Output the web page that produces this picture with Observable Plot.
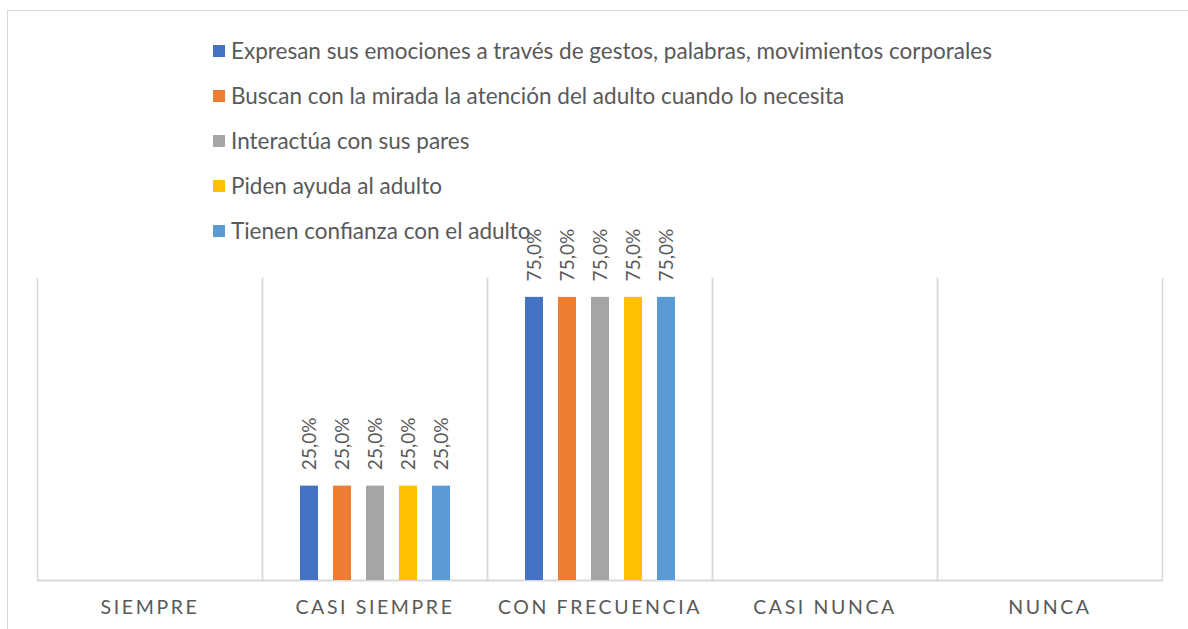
<!DOCTYPE html>
<html>
<head>
<meta charset="utf-8">
<script src="https://cdn.jsdelivr.net/npm/d3@7"></script>
<script src="https://cdn.jsdelivr.net/npm/@observablehq/plot@0.6"></script>
<style>
  html, body { margin: 0; padding: 0; background: #fff; }
  #wrap { position: relative; width: 1188px; height: 629px; overflow: hidden; font-family: Lato, "Open Sans", sans-serif; }
  #border { position: absolute; left: 7px; top: 10px; right: -10px; bottom: -10px; border-left: 1.5px solid #d9d9d9; border-top: 1.5px solid #d9d9d9; pointer-events: none; }
  #legend { position: absolute; left: 213px; top: 28px; }
  .item { display: flex; align-items: center; height: 45px; font-size: 22.5px; color: #595959; white-space: nowrap; }
  .sw { width: 12px; height: 12px; margin-right: 6px; flex: none; }
  #chart { position: absolute; left: 0; top: 0; }
  #chart svg { font-family: Lato, "Open Sans", sans-serif; }
  g[aria-label="fx-axis tick label"] text { letter-spacing: 2.6px; }
</style>
</head>
<body>
<div id="wrap">
  <div id="chart"></div>
  <div id="border"></div>
  <div id="legend"></div>
</div>
<script>
// Categories (x axis)
const categories = ["SIEMPRE", "CASI SIEMPRE", "CON FRECUENCIA", "CASI NUNCA", "NUNCA"];
// Series names
const series = [
  "Expresan sus emociones a través de gestos, palabras, movimientos corporales",
  "Buscan con la mirada la atención del adulto cuando lo necesita",
  "Interactúa con sus pares",
  "Piden ayuda al adulto",
  "Tienen confianza con el adulto"
];
const colors = ["#4472C4", "#ED7D31", "#A5A5A5", "#FFC000", "#5B9BD5"];
// Series values (share per category)
const expresan   = [0, 0.25, 0.75, 0, 0];
const buscan     = [0, 0.25, 0.75, 0, 0];
const interactua = [0, 0.25, 0.75, 0, 0];
const piden      = [0, 0.25, 0.75, 0, 0];
const confianza  = [0, 0.25, 0.75, 0, 0];
const seriesValues = [expresan, buscan, interactua, piden, confianza];

const data = [];
categories.forEach((c, ci) => {
  series.forEach((s, si) => {
    data.push({category: c, series: s, value: seriesValues[si][ci]});
  });
});
const fmt = v => (v * 100).toFixed(1).replace(".", ",") + "%";

// Legend
const legend = document.getElementById("legend");
series.forEach((s, i) => {
  const it = document.createElement("div");
  it.className = "item";
  const sw = document.createElement("span");
  sw.className = "sw";
  sw.style.background = colors[i];
  const tx = document.createElement("span");
  tx.textContent = s;
  it.appendChild(sw); it.appendChild(tx);
  legend.appendChild(it);
});

const grid = {stroke: "#d9d9d9", strokeWidth: 1.5, strokeOpacity: 1};
const chart = Plot.plot({
  width: 1188,
  height: 629,
  marginTop: 278,
  marginBottom: 49,
  marginLeft: 37,
  marginRight: 26,
  style: {background: "transparent", overflow: "visible"},
  fx: {domain: categories, padding: 0, label: null},
  x: {domain: series, paddingInner: 0.46, paddingOuter: 1.13, axis: null},
  y: {domain: [0, 0.8], axis: null},
  color: {domain: series, range: colors},
  marks: [
    Plot.frame({anchor: "left", ...grid}),
    Plot.frame({anchor: "right", ...grid}),
    Plot.ruleY([0], {stroke: "#d9d9d9", strokeWidth: 2}),
    Plot.barY(data, {fx: "category", x: "series", y: "value", fill: "series"}),
    Plot.text(data.filter(d => d.value > 0), {
      fx: "category", x: "series", y: "value",
      text: d => fmt(d.value),
      rotate: -90, textAnchor: "start", dy: -16,
      fill: "#595959", fontSize: 19
    }),
    Plot.axisFx({anchor: "bottom", tickSize: 0, tickPadding: 20, label: null, fontSize: 19.5, fill: "#595959"})
  ]
});
document.getElementById("chart").appendChild(chart);
</script>
</body>
</html>
